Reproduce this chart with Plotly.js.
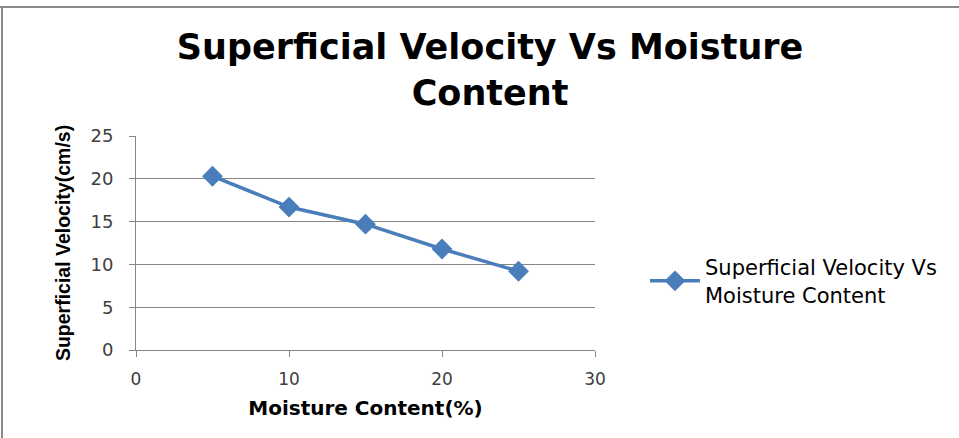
<!DOCTYPE html>
<html>
<head>
<meta charset="utf-8">
<script src="https://cdn.plot.ly/plotly-3.0.1.min.js"></script>
<style>html,body{margin:0;padding:0;background:#fff;}#chart{width:959px;height:438px;}</style>
</head>
<body>
<div id="chart"></div>
<script>
const moisture = [5, 10, 15, 20, 25];
const velocity = [20.3, 16.7, 14.7, 11.8, 9.2];
const seriesName = "Superficial Velocity Vs<br>Moisture Content";
const xTicks = [0, 10, 20, 30];
const yTicks = [0, 5, 10, 15, 20, 25];

const W = 959, H = 438;
const m = {l: 136, r: 364, t: 136, b: 88};
const pw = W - m.l - m.r, ph = H - m.t - m.b;
const px = v => (v - m.l) / pw;
const py = v => 1 - (v - m.t) / ph;

const trace = {
  x: moisture, y: velocity, name: seriesName,
  type: 'scatter', mode: 'lines+markers',
  line: {color: '#4a7ebb', width: 3.5},
  marker: {symbol: 'diamond', size: 16, color: '#4a7ebb'}
};

const layout = {
  width: W, height: H,
  margin: m,
  paper_bgcolor: '#fff', plot_bgcolor: '#fff',
  title: {
    text: '<b>Superficial Velocity Vs Moisture<br>Content</b>',
    font: {family: 'DejaVu Sans, sans-serif', size: 35, color: '#000'},
    xref: 'container', x: 0.511, xanchor: 'center',
    yref: 'container', y: 1 - 59 / H, yanchor: 'middle'
  },
  xaxis: {
    range: [0, 30], tickvals: xTicks, ticktext: xTicks.map(String),
    showgrid: false, zeroline: false,
    showline: true, linecolor: '#868686', linewidth: 1,
    ticks: 'outside', ticklen: 6, tickcolor: '#868686',
    ticklabelstandoff: 8,
    tickfont: {family: 'DejaVu Sans, sans-serif', size: 17, color: '#404040'},
    title: {text: '<b>Moisture Content(%)</b>', font: {family: 'DejaVu Sans, sans-serif', size: 20, color: '#000'}, standoff: 12}
  },
  yaxis: {
    range: [0, 25], tickvals: yTicks, ticktext: yTicks.map(String),
    showgrid: true, gridcolor: '#868686', gridwidth: 1, zeroline: false,
    showline: true, linecolor: '#868686', linewidth: 1,
    ticks: 'outside', ticklen: 6, tickcolor: '#868686',
    ticklabelstandoff: 12,
    tickfont: {family: 'DejaVu Sans, sans-serif', size: 18, color: '#404040'},
    title: {text: '<b>Superficial Velocity(cm/s)</b>', font: {family: 'Liberation Sans, Arial, sans-serif', size: 19.5, color: '#000'}, standoff: 14}
  },
  showlegend: true,
  legend: {
    x: px(645), y: py(247), xanchor: 'left', yanchor: 'top',
    font: {family: 'DejaVu Sans, sans-serif', size: 21, color: '#000'},
    bgcolor: 'rgba(0,0,0,0)', itemwidth: 50
  },
  shapes: [
    {type: 'line', xref: 'paper', yref: 'paper', x0: px(0), x1: px(W), y0: py(7), y1: py(7), line: {color: '#8a8a8a', width: 2}},
    {type: 'line', xref: 'paper', yref: 'paper', x0: px(2), x1: px(2), y0: py(6), y1: py(H), line: {color: '#8a8a8a', width: 2}}
  ]
};

Plotly.newPlot('chart', [trace], layout, {displayModeBar: false});
</script>
</body>
</html>
